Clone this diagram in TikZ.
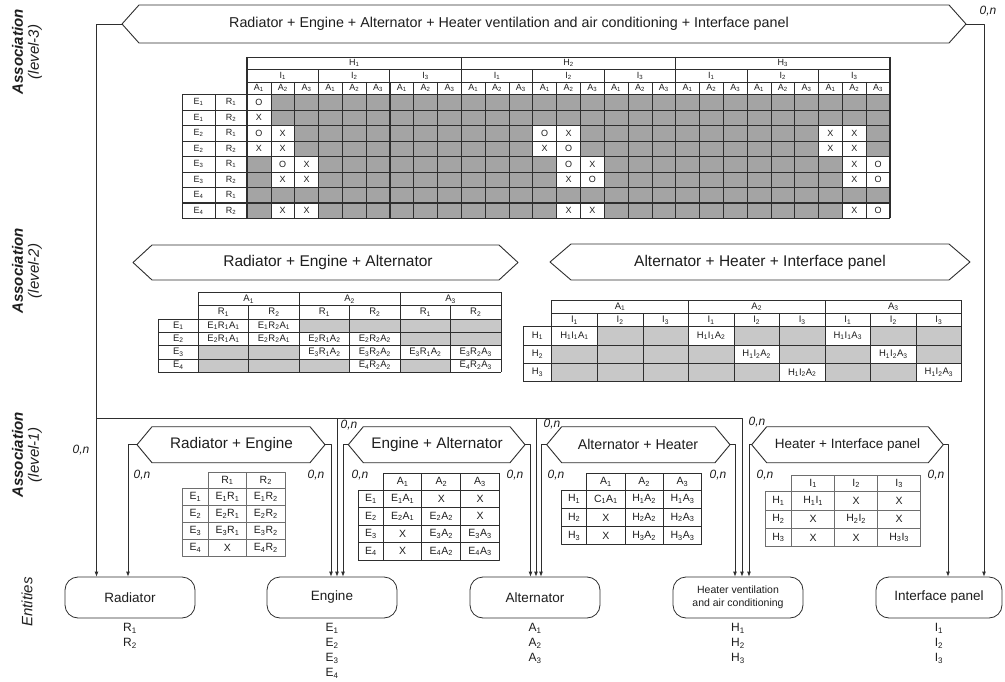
\documentclass[tikz,border=0pt]{standalone}
\usepackage{fontspec}
\setmainfont{Liberation Sans}
\usetikzlibrary{arrows.meta}
\newcommand\SB[1]{\textsubscript{#1}}
\definecolor{ln}{HTML}{2E2E2E}
\definecolor{tx}{HTML}{1E1E1E}
\definecolor{gthree}{HTML}{A4A4A4}
\definecolor{gtwo}{HTML}{C8C8C8}
\definecolor{lgray}{HTML}{6E6E6E}
% name, xl, xr, yc, halfh, inset, fontsize, text x, text
\newcommand\hexbox[9]{%
  \draw[hexline] (#2,#4) -- ({#2+#6},{#4-#5}) -- ({#3-#6},{#4-#5}) -- (#3,#4)
     -- ({#3-#6},{#4+#5}) -- ({#2+#6},{#4+#5}) -- cycle;
  \coordinate (#1-w) at (#2,#4);
  \coordinate (#1-e) at (#3,#4);
  \node[hextext,font=\fontsize{#7}{#7}\selectfont] (#1) at (#8,#4) {#9};
}
% x0 label-left, x1 data-left, cw, ncols, ytop, y1 data-top, rh, nrows, style
\newcommand\tabframe[9]{%
  \pgfmathsetmacro\xe{#2+#3*#4}%
  \pgfmathsetmacro\ye{#6+#7*#8}%
  \draw[#9] (#2,#5) rectangle (\xe,\ye);
  \draw[#9] (#1,#6) rectangle (#2,\ye);
  \foreach \k in {1,...,#8} {\draw[#9] (#1,{#6+#7*\k}) -- (\xe,{#6+#7*\k});}
  \draw[#9] (#2,#6) -- (\xe,#6);
  \foreach \k in {1,...,#4} {\draw[#9] ({#2+#3*\k},#5) -- ({#2+#3*\k},\ye);}
}
\begin{document}
\begin{tikzpicture}[x=1pt,y=-1pt,line join=round,
  hexline/.style={draw=ln,line width=0.9pt,fill=white},
  hextext/.style={text=tx,inner sep=0pt},
  conn/.style={draw=ln,line width=0.8pt},
  arr/.style={conn,-{Latex[length=5pt,width=4pt]}},
  entity/.style={draw=ln,line width=0.8pt,rounded corners=13pt,minimum width=130pt,minimum height=41pt,inner sep=0pt,align=center,text=tx,font=\fontsize{13.5}{14}\selectfont},
  elab/.style={align=center,text=tx,font=\fontsize{12}{15}\selectfont,inner sep=0pt,anchor=north},
  card/.style={text=tx,font=\itshape\fontsize{12}{12}\selectfont,inner sep=0pt},
  side/.style={rotate=90,align=center,text=tx,font=\fontsize{15}{16}\selectfont\itshape,inner sep=0pt},
  tl/.style={draw=ln,line width=0.6pt},
  tlg/.style={draw=lgray,line width=0.7pt},
  tlk/.style={draw=ln,line width=1.0pt},
  tcs/.style={text=tx,font=\fontsize{9}{10}\selectfont,inner sep=0pt},
  tcm/.style={text=tx,font=\fontsize{9.5}{10}\selectfont,inner sep=0pt},
  tcl/.style={text=tx,font=\fontsize{10.5}{11}\selectfont,inner sep=0pt},
]
\useasboundingbox[fill=white] (0,0) rectangle (1005,682);

% ---------- side labels ----------
\node[side] (lv3) at (27,52) {\textbf{Association}\\(level-3)};
\node[side] (lv2) at (27,271) {\textbf{Association}\\(level-2)};
\node[side] (lv1) at (27,455) {\textbf{Association}\\(level-1)};
\node[side] (lv0) at (27,602) {Entities};

% ---------- hexagons ----------
\hexbox{top}{122}{966}{24}{19}{17}{14.3}{509}{Radiator + Engine + Alternator + Heater ventilation and air conditioning + Interface panel}
\hexbox{twoa}{133}{518}{262.5}{17.5}{19}{15.5}{328}{Radiator + Engine + Alternator}
\hexbox{twob}{550}{970}{262}{18}{21}{15.5}{760}{Alternator + Heater + Interface panel}
\hexbox{re}{137}{325}{444.7}{18}{15}{15.3}{231.5}{Radiator + Engine}
\hexbox{ea}{348.3}{525}{444.7}{18}{15}{15.3}{437}{Engine + Alternator}
\hexbox{ah}{546.7}{730}{444.7}{18}{15}{14.2}{638}{Alternator + Heater}
\hexbox{hi}{751.7}{943.3}{444.7}{18}{15}{13.5}{847.5}{Heater + Interface panel}

% ---------- entities ----------
\node[entity] (radiator) at (130,597.5) {Radiator};
\node[entity] (engine) at (332,597.5) {Engine};
\node[entity] (alternator) at (535,597.5) {Alternator};
\node[entity,font=\fontsize{10.5}{13}\selectfont] (heater) at (738,597.5) {Heater ventilation\\and air conditioning};
\node[entity,minimum width=126pt] (interface) at (939,597.5) {Interface panel};
\node[elab] (rlab) at ([yshift=-5pt]radiator.south) {R\SB1\\R\SB2};
\node[elab] (elab) at ([yshift=-5pt]engine.south) {E\SB1\\E\SB2\\E\SB3\\E\SB4};
\node[elab] (alab) at ([yshift=-5pt]alternator.south) {A\SB1\\A\SB2\\A\SB3};
\node[elab] (hlab) at ([yshift=-5pt]heater.south) {H\SB1\\H\SB2\\H\SB3};
\node[elab] (ilab) at ([yshift=-5pt]interface.south) {I\SB1\\I\SB2\\I\SB3};

% ---------- connectors ----------
\coordinate (xl) at (96.5,0);
\coordinate (xr) at (984,0);
\draw[arr] (top-w) -| (xl |- radiator.north);
\draw[arr] (top-e) -| (xr |- interface.north);
\coordinate (bus0) at (96.5,418);
\coordinate (bus1) at (337,418);
\coordinate (bus2) at (536,418);
\coordinate (bus3) at (742,418);
\draw[arr] (bus0) -- (bus3) -- (bus3 |- heater.north);
\draw[arr] (bus1) -- (bus1 |- engine.north);
\draw[arr] (bus2) -- (bus2 |- alternator.north);

\coordinate (dre-w) at (128,0);
\coordinate (dre-e) at (331,0);
\coordinate (dea-w) at (343,0);
\coordinate (dea-e) at (530.5,0);
\coordinate (dah-w) at (541,0);
\coordinate (dah-e) at (735,0);
\coordinate (dhi-w) at (749,0);
\coordinate (dhi-e) at (948,0);
\draw[arr] (re-w) -| (dre-w |- radiator.north);
\draw[arr] (re-e) -| (dre-e |- engine.north);
\draw[arr] (ea-w) -| (dea-w |- engine.north);
\draw[arr] (ea-e) -| (dea-e |- alternator.north);
\draw[arr] (ah-w) -| (dah-w |- alternator.north);
\draw[arr] (ah-e) -| (dah-e |- heater.north);
\draw[arr] (hi-w) -| (dhi-w |- heater.north);
\draw[arr] (hi-e) -| (dhi-e |- interface.north);

% ---------- cardinalities ----------
\node[card] (c0) at (988,11) {0,n};
\node[card] (c1) at (81,450) {0,n};
\node[card] (c2) at (142,475) {0,n};
\node[card] (c3) at (316,475) {0,n};
\node[card] (c4) at (349,425) {0,n};
\node[card] (c5) at (360,475) {0,n};
\node[card] (c6) at (515,475) {0,n};
\node[card] (c7) at (552,424) {0,n};
\node[card] (c8) at (556,475) {0,n};
\node[card] (c9) at (718,475) {0,n};
\node[card] (c10) at (757,422) {0,n};
\node[card] (c11) at (765,475) {0,n};
\node[card] (c12) at (936,475) {0,n};

% ---------- level-3 table ----------
% header rows 57 / 69.5 / 82 / 94.5 ; data rows of 15.5 from 94.5 to 218.5
\fill[gthree] (247,94.5) rectangle (890,218.5);
\foreach \cc/\rr/\mm [count=\n] in {0/0/O, 0/1/X, 0/2/O, 1/2/X, 12/2/O, 13/2/X, 24/2/X, 25/2/X,
  0/3/X, 1/3/X, 12/3/X, 13/3/O, 24/3/X, 25/3/X,
  1/4/O, 2/4/X, 13/4/O, 14/4/X, 25/4/X, 26/4/O,
  1/5/X, 2/5/X, 13/5/X, 14/5/O, 25/5/X, 26/5/O,
  1/7/X, 2/7/X, 13/7/X, 14/7/X, 25/7/X, 26/7/O} {
  \fill[white] ({247+\cc*23.815},{94.5+\rr*15.5}) rectangle ++(23.815,15.5);
  \node[tcs] (m\n) at ({247+(\cc+0.5)*23.815},{94.5+(\rr+0.5)*15.5}) {\mm};
}
\draw[tl] (247,57) -- (890,57);
\draw[tl] (247,69.5) -- (890,69.5);
\draw[tl] (247,82) -- (890,82);
\foreach \r in {0,...,8} {\draw[tl] (182,{94.5+\r*15.5}) -- (890,{94.5+\r*15.5});}
\draw[draw=ln,line width=1.8pt] (182,203) -- (890,203);
\foreach \c in {0,...,27} {\draw[tl] ({247+\c*23.815},82) -- ({247+\c*23.815},218.5);}
\foreach \c in {0,3,...,27} {\draw[tl,line width=0.8pt] ({247+\c*23.815},69.5) -- ({247+\c*23.815},218.5);}
\foreach \c in {0,9,18,27} {\draw[tl,line width=1.1pt] ({247+\c*23.815},57) -- ({247+\c*23.815},218.5);}
\draw[tl] (182,94.5) -- (182,218.5);
\draw[tl] (215,94.5) -- (215,218.5);
\foreach \h in {1,2,3} {\node[tcs] (H\h) at ({247+(\h-0.5)*214.335},63.25) {H\SB{\h}};}
\foreach \h in {0,1,2} {\foreach \i in {1,2,3} {\node[tcs] (I\h\i) at ({247+\h*214.335+(\i-0.5)*71.445},75.75) {I\SB{\i}};}}
\foreach \c in {0,...,26} {\pgfmathtruncatemacro\aa{mod(\c,3)+1}\node[tcs] (A\c) at ({247+(\c+0.5)*23.815},88.25) {A\SB{\aa}};}
\foreach \e/\rr [count=\k from 0] in {1/1,1/2,2/1,2/2,3/1,3/2,4/1,4/2} {
  \node[tcs] (E\k) at (198.5,{102.25+\k*15.5}) {E\SB{\e}};
  \node[tcs] (R\k) at (231,{102.25+\k*15.5}) {R\SB{\rr}};
}

% ---------- level-2 left table ----------
\fill[gtwo] (198.3,318.9) rectangle (501,372.1);
\foreach \cc/\rr/\tt [count=\n] in {0/0/E\SB1R\SB1A\SB1, 1/0/E\SB1R\SB2A\SB1,
  0/1/E\SB2R\SB1A\SB1, 1/1/E\SB2R\SB2A\SB1, 2/1/E\SB2R\SB1A\SB2, 3/1/E\SB2R\SB2A\SB2,
  2/2/E\SB3R\SB1A\SB2, 3/2/E\SB3R\SB2A\SB2, 4/2/E\SB3R\SB1A\SB2, 5/2/E\SB3R\SB2A\SB3,
  3/3/E\SB4R\SB2A\SB2, 5/3/E\SB4R\SB2A\SB3} {
  \fill[white] ({198.3+\cc*50.45},{318.9+\rr*13.3}) rectangle ++(50.45,13.3);
  \node[tcm] (la\n) at ({198.3+(\cc+0.5)*50.45},{318.9+(\rr+0.5)*13.3}) {\tt};
}
\draw[tl] (198.3,292.3) -- (501,292.3);
\draw[tl] (198.3,305.6) -- (501,305.6);
\foreach \k in {0,...,4} {\draw[tl] (158.3,{318.9+\k*13.3}) -- (501,{318.9+\k*13.3});}
\draw[tl] (158.3,318.9) -- (158.3,372.1);
\foreach \k in {0,2,4,6} {\draw[tl,line width=0.9pt] ({198.3+\k*50.45},292.3) -- ({198.3+\k*50.45},372.1);}
\foreach \k in {1,3,5} {\draw[tl] ({198.3+\k*50.45},305.6) -- ({198.3+\k*50.45},372.1);}
\foreach \k in {1,2,3} {\node[tcm] (lA\k) at ({198.3+(2*\k-1)*50.45},299) {A\SB{\k}};}
\foreach \k in {0,1,2} {
  \node[tcm] (lR\k a) at ({198.3+(2*\k+0.5)*50.45},312.3) {R\SB1};
  \node[tcm] (lR\k b) at ({198.3+(2*\k+1.5)*50.45},312.3) {R\SB2};
}
\foreach \k in {1,...,4} {\node[tcm] (lE\k) at (178.3,{318.9+(\k-0.5)*13.3}) {E\SB{\k}};}

% ---------- level-2 right table ----------
\fill[gtwo] (551.7,326.7) rectangle (961.7,381.7);
\foreach \cc/\rr/\tt [count=\n] in {0/0/H\SB1I\SB1A\SB1, 3/0/H\SB1I\SB1A\SB2, 6/0/H\SB1I\SB1A\SB3,
  4/1/H\SB1I\SB2A\SB2, 7/1/H\SB1I\SB2A\SB3, 5/2/H\SB1I\SB2A\SB2, 8/2/H\SB1I\SB2A\SB3} {
  \fill[white] ({551.7+\cc*45.55},{326.7+\rr*18.33}) rectangle ++(45.55,18.33);
  \node[tcm] (ra\n) at ({551.7+(\cc+0.5)*45.55},{326.7+(\rr+0.5)*18.33}) {\tt};
}
\draw[tl] (551.7,300) -- (961.7,300);
\draw[tl] (551.7,313.3) -- (961.7,313.3);
\foreach \k in {0,...,3} {\draw[tl] (523.3,{326.7+\k*18.33}) -- (961.7,{326.7+\k*18.33});}
\draw[tl] (523.3,326.7) -- (523.3,381.7);
\foreach \k in {0,3,6,9} {\draw[tl,line width=0.9pt] ({551.7+\k*45.55},300) -- ({551.7+\k*45.55},381.7);}
\foreach \k in {1,2,4,5,7,8} {\draw[tl] ({551.7+\k*45.55},313.3) -- ({551.7+\k*45.55},381.7);}
\foreach \k in {1,2,3} {\node[tcm] (rA\k) at ({551.7+(3*\k-1.5)*45.55},306.7) {A\SB{\k}};}
\foreach \k in {0,1,2} {\foreach \i in {1,2,3} {
  \node[tcm] (rI\k\i) at ({551.7+(3*\k+\i-0.5)*45.55},320) {I\SB{\i}};}}
\foreach \k in {1,2,3} {\node[tcm] (rH\k) at (537.5,{326.7+(\k-0.5)*18.33}) {H\SB{\k}};}

% ---------- level-1 tables ----------
\tabframe{182.7}{208.3}{38.35}{2}{472.7}{488.3}{17}{4}{tlg}
\node[tcl] (reR1) at (227.5,480.5) {R\SB1};
\node[tcl] (reR2) at (265.8,480.5) {R\SB2};
\foreach \e/\ca/\cb in {1/E\SB1R\SB1/E\SB1R\SB2, 2/E\SB2R\SB1/E\SB2R\SB2, 3/E\SB3R\SB1/E\SB3R\SB2, 4/X/E\SB4R\SB2} {
  \node[tcl] (reE\e) at (195.5,{488.3+17*(\e-0.5)}) {E\SB{\e}};
  \node[tcl] (reA\e) at (227.5,{488.3+17*(\e-0.5)}) {\ca};
  \node[tcl] (reB\e) at (265.8,{488.3+17*(\e-0.5)}) {\cb};
}

\tabframe{358.3}{383.3}{38.67}{3}{473.3}{490}{17.5}{4}{tlk}
\foreach \k in {1,2,3} {\node[tcl] (eaA\k) at ({383.3+(\k-0.5)*38.67},481.7) {A\SB{\k}};}
\foreach \e/\ca/\cb/\cc in {1/E\SB1A\SB1/X/X, 2/E\SB2A\SB1/E\SB2A\SB2/X, 3/X/E\SB3A\SB2/E\SB3A\SB3, 4/X/E\SB4A\SB2/E\SB4A\SB3} {
  \node[tcl] (eaE\e) at (370.8,{490+17.5*(\e-0.5)}) {E\SB{\e}};
  \node[tcl] (ea1\e) at (402.6,{490+17.5*(\e-0.5)}) {\ca};
  \node[tcl] (ea2\e) at (441.3,{490+17.5*(\e-0.5)}) {\cb};
  \node[tcl] (ea3\e) at (480,{490+17.5*(\e-0.5)}) {\cc};
}

\tabframe{561.7}{586.7}{38.33}{3}{473.3}{490}{18.33}{3}{tlk}
\foreach \k in {1,2,3} {\node[tcl] (ahA\k) at ({586.7+(\k-0.5)*38.33},481.7) {A\SB{\k}};}
\foreach \e/\ca/\cb/\cc in {1/C\SB1A\SB1/H\SB1A\SB2/H\SB1A\SB3, 2/X/H\SB2A\SB2/H\SB2A\SB3, 3/X/H\SB3A\SB2/H\SB3A\SB3} {
  \node[tcl] (ahH\e) at (574.2,{490+18.33*(\e-0.5)}) {H\SB{\e}};
  \node[tcl] (ah1\e) at (605.9,{490+18.33*(\e-0.5)}) {\ca};
  \node[tcl] (ah2\e) at (644.2,{490+18.33*(\e-0.5)}) {\cb};
  \node[tcl] (ah3\e) at (682.5,{490+18.33*(\e-0.5)}) {\cc};
}

\tabframe{765}{791.7}{43}{3}{475}{491.7}{18.33}{3}{tlg}
\foreach \k in {1,2,3} {\node[tcl] (hiI\k) at ({791.7+(\k-0.5)*43},483.4) {I\SB{\k}};}
\foreach \e/\ca/\cb/\cc in {1/H\SB1I\SB1/X/X, 2/X/H\SB2I\SB2/X, 3/X/X/H\SB3I\SB3} {
  \node[tcl] (hiH\e) at (778.4,{491.7+18.33*(\e-0.5)}) {H\SB{\e}};
  \node[tcl] (hi1\e) at (813.2,{491.7+18.33*(\e-0.5)}) {\ca};
  \node[tcl] (hi2\e) at (856.2,{491.7+18.33*(\e-0.5)}) {\cb};
  \node[tcl] (hi3\e) at (899.2,{491.7+18.33*(\e-0.5)}) {\cc};
}
\end{tikzpicture}
\end{document}
